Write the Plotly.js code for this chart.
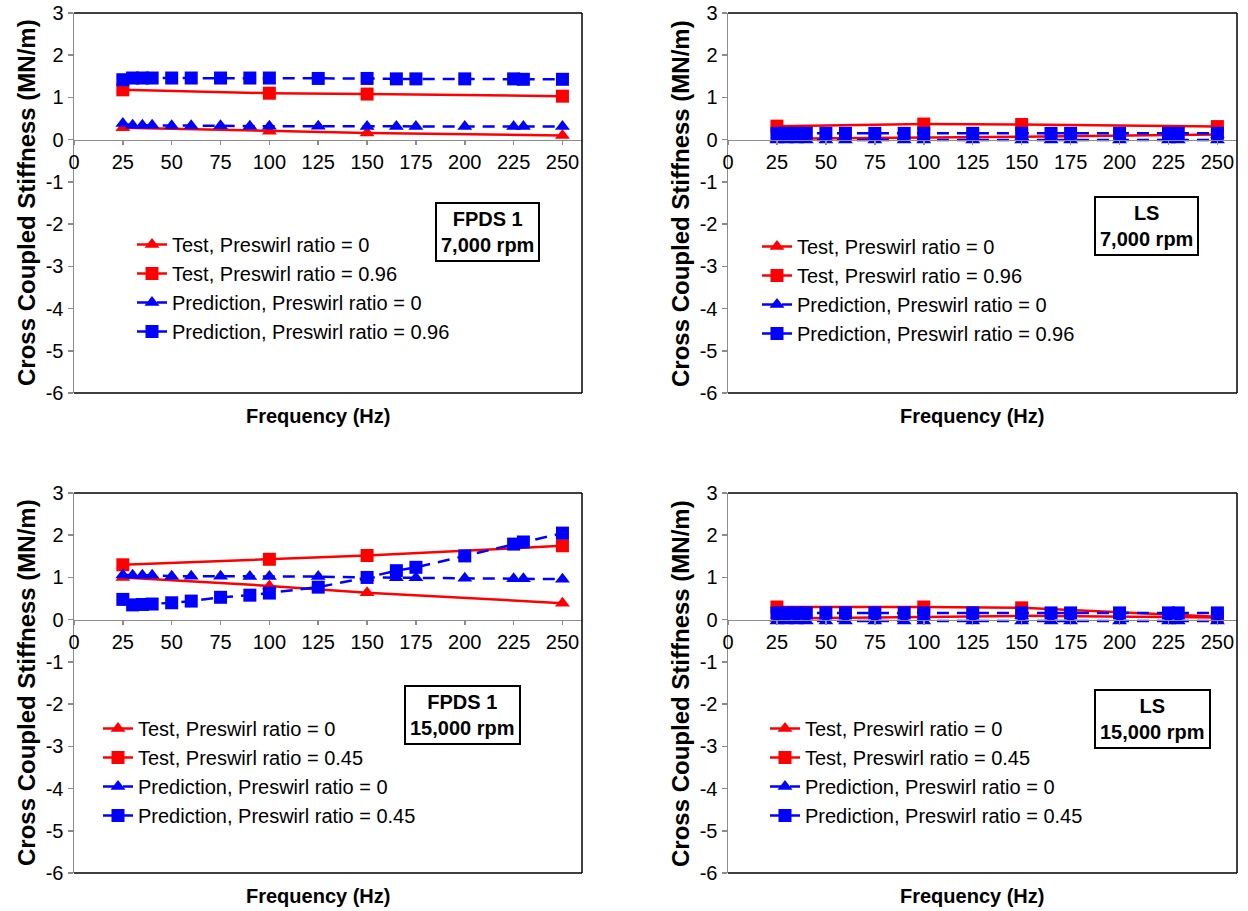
<!DOCTYPE html>
<html>
<head>
<meta charset="utf-8">
<script src="https://cdn.plot.ly/plotly-3.0.1.min.js"></script>
<style>html,body{margin:0;padding:0;background:#fff;}#chart{width:1248px;height:911px;}</style>
</head>
<body>
<div id="chart"></div>
<script>
// ---------- DATA ----------
const xTest = [25, 100, 150, 250];
const xPred = [25, 30, 35, 40, 50, 60, 75, 90, 100, 125, 150, 165, 175, 200, 225, 230, 250];
const xTickVals = [0, 25, 50, 75, 100, 125, 150, 175, 200, 225, 250];
const yTickVals = [-6, -5, -4, -3, -2, -1, 0, 1, 2, 3];

// Panel 1: FPDS 1, 7,000 rpm
const fpds7_test0   = [0.28, 0.20, 0.16, 0.10];
const fpds7_test96  = [1.18, 1.10, 1.08, 1.03];
const fpds7_pred0   = [0.38, 0.34, 0.34, 0.34, 0.33, 0.33, 0.33, 0.32, 0.32, 0.32, 0.31, 0.31, 0.31, 0.31, 0.31, 0.31, 0.31];
const fpds7_pred96  = [1.42, 1.46, 1.46, 1.46, 1.46, 1.46, 1.46, 1.46, 1.46, 1.45, 1.45, 1.44, 1.44, 1.44, 1.44, 1.43, 1.43];

// Panel 2: LS, 7,000 rpm
const ls7_test0   = [0.02, 0.04, 0.07, 0.12];
const ls7_test96  = [0.32, 0.37, 0.36, 0.31];
const ls7_pred0   = [-0.01, -0.01, -0.01, -0.01, -0.01, -0.01, -0.01, -0.01, -0.01, -0.01, -0.01, -0.01, -0.01, -0.01, -0.01, -0.01, -0.01];
const ls7_pred96  = [0.15, 0.15, 0.15, 0.15, 0.15, 0.15, 0.15, 0.15, 0.15, 0.15, 0.15, 0.15, 0.15, 0.15, 0.15, 0.15, 0.15];

// Panel 3: FPDS 1, 15,000 rpm
const fpds15_test0  = [1.00, 0.80, 0.64, 0.39];
const fpds15_test45 = [1.30, 1.43, 1.52, 1.75];
const fpds15_pred0  = [1.06, 1.05, 1.05, 1.05, 1.03, 1.03, 1.03, 1.02, 1.02, 1.02, 1.00, 0.99, 0.99, 0.98, 0.97, 0.97, 0.96];
const fpds15_pred45 = [0.48, 0.35, 0.36, 0.37, 0.40, 0.44, 0.53, 0.58, 0.63, 0.77, 1.00, 1.16, 1.24, 1.51, 1.79, 1.84, 2.05];

// Panel 4: LS, 15,000 rpm
const ls15_test0  = [0.03, 0.06, 0.09, 0.05];
const ls15_test45 = [0.30, 0.30, 0.28, 0.07];
const ls15_pred0  = [-0.03, -0.03, -0.03, -0.03, -0.03, -0.03, -0.03, -0.03, -0.03, -0.03, -0.03, -0.03, -0.03, -0.03, -0.03, -0.03, -0.03];
const ls15_pred45 = [0.16, 0.16, 0.16, 0.16, 0.16, 0.16, 0.16, 0.16, 0.16, 0.16, 0.16, 0.16, 0.16, 0.16, 0.16, 0.16, 0.16];

const panelLabels = ['FPDS 1<br>7,000 rpm', 'LS<br>7,000 rpm', 'FPDS 1<br>15,000 rpm', 'LS<br>15,000 rpm'];
const ratioLabels = ['0.96', '0.96', '0.45', '0.45'];
const xTitle = 'Frequency (Hz)';
const yTitle = 'Cross Coupled Stiffness (MN/m)';

// ---------- LAYOUT HELPERS ----------
const W = 1248, H = 911;
const px = x => x / W;
const py = y => 1 - y / H;
const FONT = '"Liberation Sans", Arial, sans-serif';
const FS = 20;
const RED = '#ff0000', BLUE = '#0000ff';

const panels = [
  { test0: fpds7_test0, testR: fpds7_test96, pred0: fpds7_pred0, predR: fpds7_pred96,
    x0: 74, x1: 582, y0: 13, y1: 393, legX: 132, legY: 225, boxX: 487, boxY: 232, titleX: 318, ytX: 26 },
  { test0: ls7_test0, testR: ls7_test96, pred0: ls7_pred0, predR: ls7_pred96,
    x0: 728, x1: 1237, y0: 13, y1: 393, legX: 757, legY: 227, boxX: 1146, boxY: 226, titleX: 972, ytX: 680 },
  { test0: fpds15_test0, testR: fpds15_test45, pred0: fpds15_pred0, predR: fpds15_pred45,
    x0: 74, x1: 582, y0: 493, y1: 873, legX: 98, legY: 709, boxX: 462, boxY: 715, titleX: 318, ytX: 26 },
  { test0: ls15_test0, testR: ls15_test45, pred0: ls15_pred0, predR: ls15_pred45,
    x0: 728, x1: 1237, y0: 493, y1: 873, legX: 765, legY: 709, boxX: 1152, boxY: 719, titleX: 972, ytX: 680 }
];

const traces = [];
const layout = {
  width: W, height: H,
  margin: { l: 0, r: 0, t: 0, b: 0 },
  paper_bgcolor: '#ffffff', plot_bgcolor: '#ffffff',
  font: { family: FONT, size: FS, color: '#000' },
  showlegend: true,
  shapes: [], annotations: []
};

panels.forEach((p, i) => {
  const n = i + 1;
  const sfx = n === 1 ? '' : String(n);
  const xa = 'x' + sfx, ya = 'y' + sfx;
  const legName = 'legend' + sfx;
  const r = ratioLabels[i];
  const yDom = [py(p.y1), py(p.y0)];
  const yZeroPos = yDom[0] + (6 / 9) * (yDom[1] - yDom[0]);

  const mk = (x, y, name, color, symbol, dash) => ({
    type: 'scatter', mode: 'lines+markers', x: x, y: y, name: name,
    xaxis: xa, yaxis: ya, legend: legName,
    line: { color: color, width: 2.5, dash: dash },
    marker: { color: color, symbol: symbol, size: 13 },
    cliponaxis: false
  });
  traces.push(mk(xTest, p.test0, 'Test, Preswirl ratio = 0', RED, 'triangle-up', 'solid'));
  traces.push(mk(xTest, p.testR, 'Test, Preswirl ratio = ' + r, RED, 'square', 'solid'));
  traces.push(mk(xPred, p.pred0, 'Prediction, Preswirl ratio = 0', BLUE, 'triangle-up', '12px,8px'));
  traces.push(mk(xPred, p.predR, 'Prediction, Preswirl ratio = ' + r, BLUE, 'square', '12px,8px'));

  layout['xaxis' + sfx] = {
    domain: [px(p.x0), px(p.x1)], range: [0, 260],
    anchor: 'free', position: yZeroPos,
    tickmode: 'array', tickvals: xTickVals, ticktext: xTickVals.map(String),
    showgrid: false, zeroline: false, showline: true, linecolor: '#8c8c8c', linewidth: 1.5,
    ticks: 'outside', ticklen: 4, tickcolor: '#8c8c8c', tickwidth: 1.5,
    tickfont: { family: FONT, size: FS, color: '#000' }, fixedrange: true
  };
  layout['yaxis' + sfx] = {
    domain: yDom, range: [-6, 3], anchor: xa,
    tickmode: 'array', tickvals: yTickVals, ticktext: yTickVals.map(String),
    showgrid: false, zeroline: false, showline: true, linecolor: '#8c8c8c', linewidth: 1.5,
    ticks: 'outside', ticklen: 5, tickcolor: '#8c8c8c', tickwidth: 1.5,
    tickfont: { family: FONT, size: FS, color: '#000' }, fixedrange: true
  };
  layout[legName] = {
    x: px(p.legX), y: py(p.legY), xanchor: 'left', yanchor: 'top',
    bgcolor: 'rgba(0,0,0,0)', borderwidth: 0,
    font: { family: FONT, size: FS, color: '#000' },
    traceorder: 'normal'
  };

  // plot area border: top, right, bottom
  const lineStyle = { color: '#000', width: 1.5 };
  layout.shapes.push({ type: 'line', xref: 'paper', yref: 'paper', x0: px(p.x0), x1: px(p.x1), y0: py(p.y0), y1: py(p.y0), line: lineStyle });
  layout.shapes.push({ type: 'line', xref: 'paper', yref: 'paper', x0: px(p.x1), x1: px(p.x1), y0: py(p.y0), y1: py(p.y1), line: lineStyle });
  layout.shapes.push({ type: 'line', xref: 'paper', yref: 'paper', x0: px(p.x0), x1: px(p.x1), y0: py(p.y1), y1: py(p.y1), line: lineStyle });

  // panel label box
  layout.annotations.push({
    xref: 'paper', yref: 'paper', x: px(p.boxX), y: py(p.boxY), xanchor: 'center', yanchor: 'middle',
    text: '<b>' + panelLabels[i] + '</b>', showarrow: false, align: 'center',
    font: { family: FONT, size: FS, color: '#000' },
    bordercolor: '#000', borderwidth: 2, borderpad: 4, bgcolor: '#fff'
  });
  // x title
  layout.annotations.push({
    xref: 'paper', yref: 'paper', x: px(p.titleX), y: py(p.y1 + 23), xanchor: 'center', yanchor: 'middle',
    text: '<b>' + xTitle + '</b>', showarrow: false,
    font: { family: FONT, size: FS, color: '#000' }
  });
  // y title
  layout.annotations.push({
    xref: 'paper', yref: 'paper', x: px(p.ytX), y: py((p.y0 + p.y1) / 2), xanchor: 'center', yanchor: 'middle',
    text: '<b>' + yTitle + '</b>', showarrow: false, textangle: -90,
    font: { family: FONT, size: 24, color: '#000' }
  });
});

Plotly.newPlot('chart', traces, layout, { staticPlot: true, displayModeBar: false });
</script>
</body>
</html>
